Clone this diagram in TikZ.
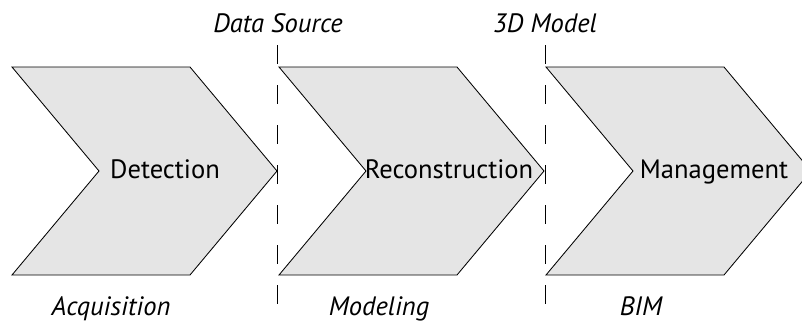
\documentclass[tikz,border=0pt]{standalone}
\usepackage{fontspec}
\setmainfont{PT Sans}
\usepackage{xcolor}
\usepackage{tikz}
\usetikzlibrary{positioning}

\begin{document}
\begin{tikzpicture}[
        stage/.style={draw, fill=gray!20, line width=0.6pt, line join=miter},
        title/.style={font=\fontsize{18.9}{21}\selectfont, anchor=base},
        phase/.style={font=\fontsize{18.9}{21}\selectfont\itshape, anchor=base},
        divider/.style={line width=0.6pt, dash pattern=on 0.475cm off 0.525cm}
    ]
        \useasboundingbox (0,0) rectangle (20.05,8.1);

        % Chevrons
        \draw[stage] (0.3,6.425) -- ++(4.45,0) -- ++(2.175,-2.6) -- ++(-2.175,-2.6) -- ++(-4.45,0) -- ++(2.175,2.6) -- cycle;
        \draw[stage] (6.975,6.425) -- ++(4.45,0) -- ++(2.175,-2.6) -- ++(-2.175,-2.6) -- ++(-4.45,0) -- ++(2.175,2.6) -- cycle;
        \draw[stage] (13.65,6.425) -- ++(4.45,0) -- ++(2.175,-2.6) -- ++(-2.175,-2.6) -- ++(-4.45,0) -- ++(2.175,2.6) -- cycle;

        \node[title] (detect) at (4.125,3.65) {Detection};
        \node[title] (recon) at (11.225,3.65) {Reconstruction};
        \node[title] (manage) at (17.85,3.65) {Management};

        % Dividers
        \coordinate (div1top) at (6.925,6.975);
        \coordinate (div1bot) at (6.925,0);
        \coordinate (div2top) at (13.625,6.975);
        \coordinate (div2bot) at (13.625,0);
        \draw[divider] (div1top) -- (div1bot);
        \draw[divider] (div2top) -- (div2bot);

        \node[phase] (source) at (6.95,7.3) {Data Source};
        \node[phase] (model) at (13.625,7.3) {3D Model};

        \node[phase] (acquire) at (2.775,0.225) {Acquisition};
        \node[phase] (modeling) at (9.475,0.225) {Modeling};
        \node[phase] (bim) at (16.025,0.225) {BIM};
    \end{tikzpicture}
\end{document}
